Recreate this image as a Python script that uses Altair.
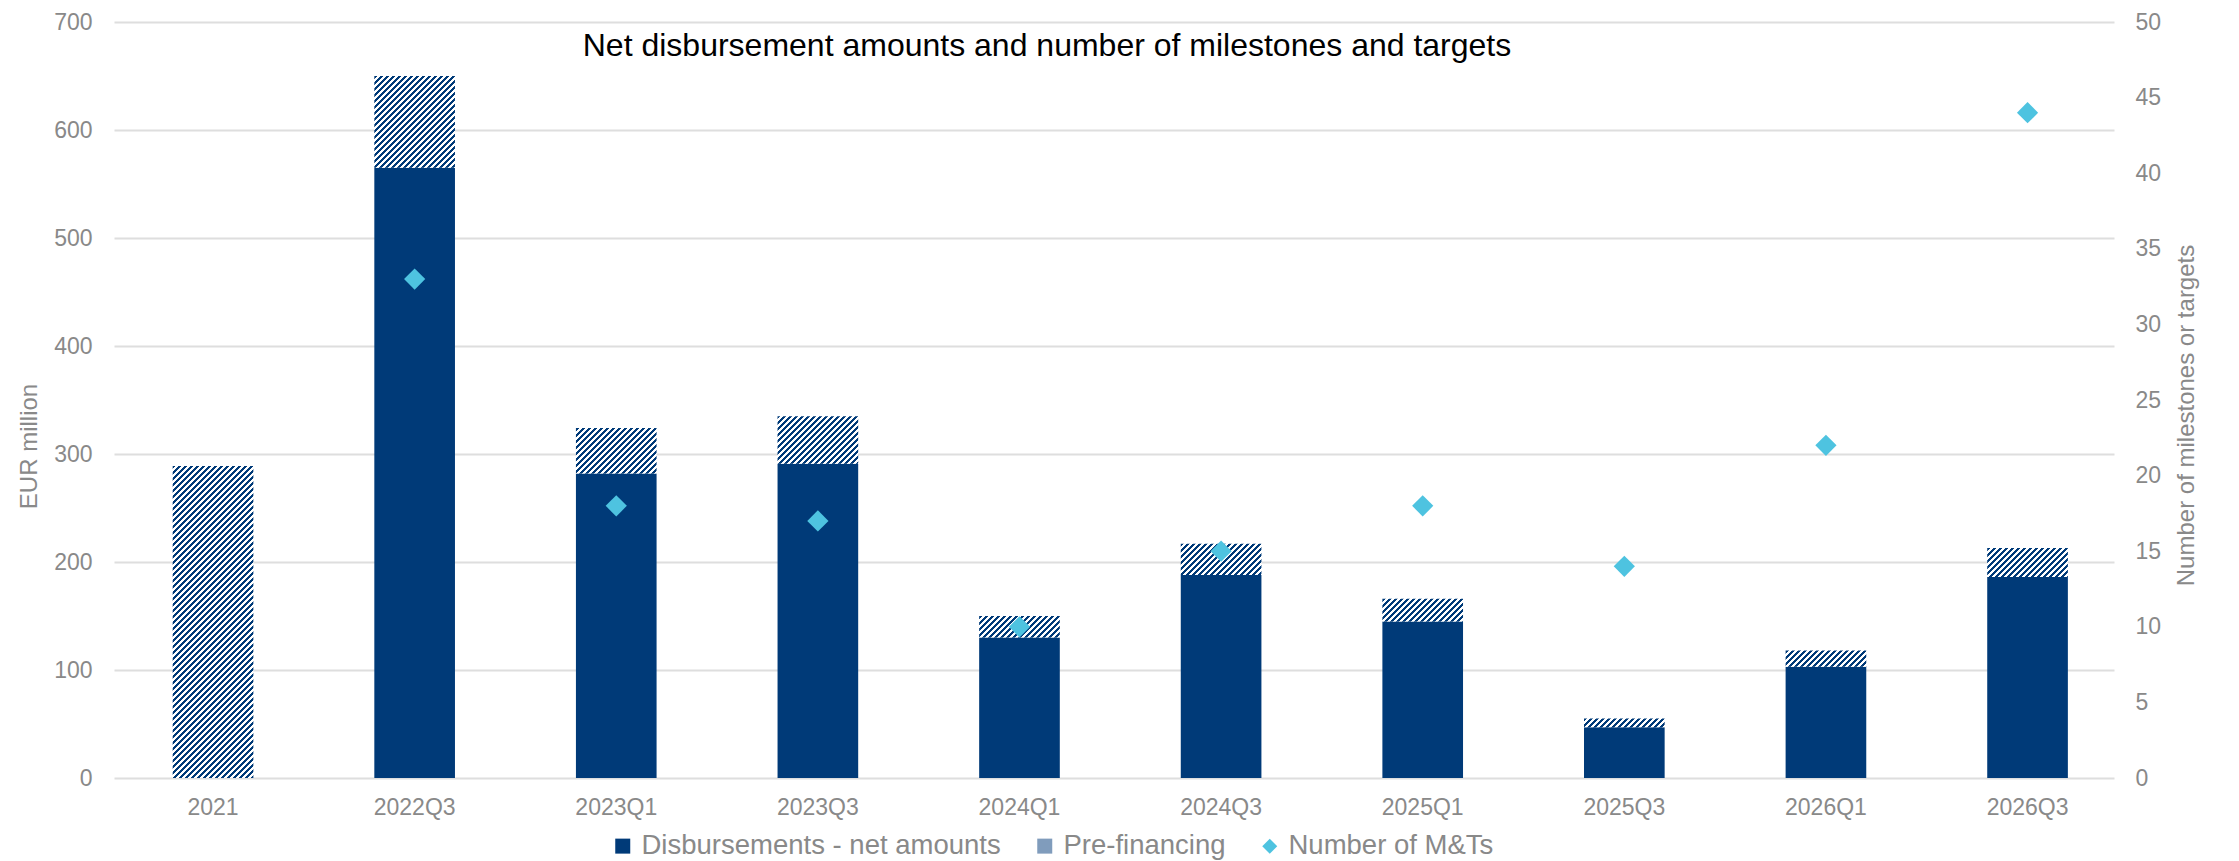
import altair as alt
import pandas as pd

# ---------------- data ----------------
categories = ["2021", "2022Q3", "2023Q1", "2023Q3", "2024Q1",
              "2024Q3", "2025Q1", "2025Q3", "2026Q1", "2026Q3"]
net_amounts = [0, 565, 282, 291, 130, 188, 145, 47, 103, 186]
pre_financing = [289, 85, 42, 44, 20, 29, 21, 8, 15, 27]
milestones_targets = [None, 33, 18, 17, 10, 15, 18, 14, 22, 44]
series_names = ["Disbursements - net amounts", "Pre-financing", "Number of M&Ts"]
left_ticks = [0, 100, 200, 300, 400, 500, 600, 700]
right_ticks = [0, 5, 10, 15, 20, 25, 30, 35, 40, 45, 50]

df = pd.DataFrame({
    "category": categories,
    "net": net_amounts,
    "pre": pre_financing,
    "mt": milestones_targets,
})

# ---------------- style ----------------
NAVY = "#003A78"
CYAN = "#4EC3E0"
GREY = "#898989"
GRID = "#dedede"
FONT = "Liberation Sans"
PLOT_W = 2000
PLOT_H = 756
Y_MAX = 700
PAD_INNER = 0.6
PAD_OUTER = 0.26
STEP = PLOT_W / (len(categories) - PAD_INNER + 2 * PAD_OUTER)
BAR_W = STEP * (1 - PAD_INNER)
STRIPE = 6.0                    # hatch period in px


def hatch_fill(height_px):
    """Diagonal '/' hatch as a linear gradient (objectBoundingBox units)."""
    w = BAR_W
    h = max(height_px, 1.0)
    length = w + h
    k = length / (w * w + h * h)
    stops = []
    j = 0
    while j * STRIPE < length:
        a = j * STRIPE / length
        b = min((j * STRIPE + STRIPE / 2) / length, 1.0)
        c = min((j + 1) * STRIPE / length, 1.0)
        stops += [
            {"offset": round(a, 5), "color": NAVY},
            {"offset": round(b, 5), "color": NAVY},
            {"offset": round(b, 5), "color": "#ffffff"},
            {"offset": round(c, 5), "color": "#ffffff"},
        ]
        j += 1
    return {"gradient": "linear", "x1": 0, "y1": 0,
            "x2": round(w * k, 6), "y2": round(h * k, 6), "stops": stops}


legend_def = alt.Legend(
    title=None, orient="none", legendX=495, legendY=810, direction="horizontal",
    labelFont=FONT, labelFontSize=27.5, labelColor=GREY, labelLimit=600,
    symbolSize=225, columnPadding=30, labelOffset=5, symbolOpacity=1,
    symbolStrokeWidth=0,
)
color_enc = alt.Color(
    "series:N",
    scale=alt.Scale(domain=series_names, range=[NAVY, "#809cbc", CYAN]),
    legend=legend_def,
)
shape_enc = alt.Shape(
    "series:N",
    scale=alt.Scale(domain=series_names, range=["square", "square", "diamond"]),
    legend=legend_def,
)

x_axis = alt.Axis(title=None, labelAngle=0, domain=False, ticks=False,
                  labelPadding=18, labelFontSize=23, labelColor=GREY, labelFont=FONT)
x_enc = alt.X("category:N",
              scale=alt.Scale(domain=categories, paddingInner=PAD_INNER,
                              paddingOuter=PAD_OUTER, align=0.56),
              axis=x_axis)

left_axis = alt.Axis(title="EUR million", orient="left", values=left_ticks,
                     grid=True, gridColor=GRID, gridWidth=2, domain=False, ticks=False,
                     labelPadding=22, labelFontSize=23, labelColor=GREY, labelFont=FONT,
                     titleFont=FONT, titleFontSize=24, titleFontWeight="normal",
                     titleColor=GREY, titlePadding=12, titleY=424)
right_axis = alt.Axis(title="Number of milestones or targets", orient="right",
                      values=right_ticks, grid=False, domain=False, ticks=False,
                      labelPadding=21, labelFontSize=23, labelColor=GREY, labelFont=FONT,
                      titleFont=FONT, titleFontSize=24, titleFontWeight="normal",
                      titleColor=GREY, titlePadding=14, titleAngle=270,
                      titleBaseline="top", titleY=393)
left_scale = alt.Scale(domain=[0, Y_MAX], nice=False)

base = alt.Chart(df)

net_bars = base.transform_calculate(
    series="'Disbursements - net amounts'"
).mark_bar().encode(
    x=x_enc,
    y=alt.Y("net:Q", scale=left_scale, axis=left_axis),
    color=color_enc,
)

hatch_layers = []
for cat, pre in zip(categories, pre_financing):
    h_px = pre * PLOT_H / Y_MAX
    hatch_layers.append(
        base.transform_calculate(total="datum.net + datum.pre")
        .transform_filter(alt.datum.category == cat)
        .mark_bar(fill=hatch_fill(h_px), strokeWidth=0)
        .encode(x=x_enc, y=alt.Y("net:Q", scale=left_scale, axis=left_axis),
                y2=alt.Y2("total:Q"))
    )

bars = alt.layer(net_bars, *hatch_layers)

points = base.transform_calculate(
    series="'Number of M&Ts'"
).mark_point(shape="diamond", filled=True, size=450, opacity=1).encode(
    x=x_enc,
    y=alt.Y("mt:Q", scale=alt.Scale(domain=[0, 50], nice=False), axis=right_axis),
    color=color_enc,
    shape=shape_enc,
)

chart = alt.layer(bars, points).resolve_scale(y="independent").properties(
    width=PLOT_W,
    height=PLOT_H,
    padding={"left": 9, "top": 3, "right": 5, "bottom": 0},
    title=alt.TitleParams(
        text="Net  disbursement amounts and number of milestones and targets",
        font=FONT, fontSize=32, fontWeight="normal", color="#000000",
        anchor="middle", dx=-67, dy=24, offset=-53, baseline="alphabetic",
    ),
).configure_view(strokeWidth=0)

chart.save("out.html", embed_options={"renderer": "svg", "actions": False})
